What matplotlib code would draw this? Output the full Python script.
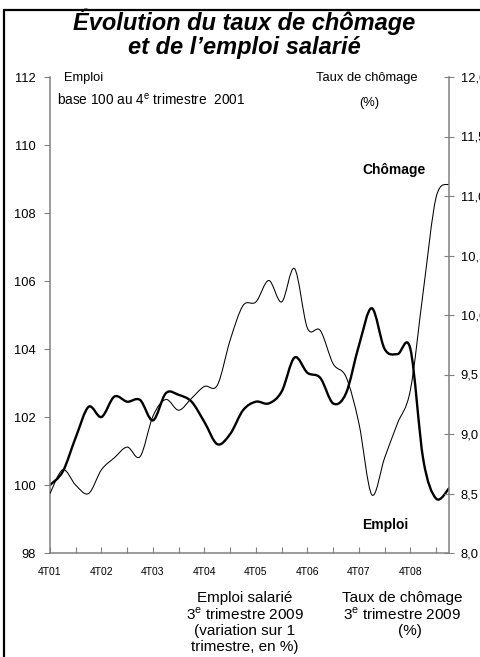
# ----------------------------------------------------------
# évolution du taux de chômage et de l'emploi salarié
# ----------------------------------------------------------

# ----------------------------------------------------------
# import
# ----------------------------------------------------------
import numpy as np
import matplotlib
matplotlib.use('Agg')
import matplotlib.pyplot as plt
from matplotlib.path import Path
from matplotlib.patches import PathPatch, Rectangle

# ----------------------------------------------------------
# constants
# ----------------------------------------------------------
plt.rcParams['font.family'] = ['Liberation Sans', 'DejaVu Sans']
plt.rcParams['mathtext.fontset'] = 'custom'
plt.rcParams['mathtext.rm'] = 'Liberation Sans'

# trimestres 4T01 -> 3T09 (32 points)
annees = ['4T01', '4T02', '4T03', '4T04', '4T05', '4T06', '4T07', '4T08']

emploi = [100.0, 100.4, 101.4, 102.3, 102.0, 102.6, 102.45, 102.5,
          101.9, 102.7, 102.65, 102.45, 101.85, 101.2, 101.5, 102.2,
          102.45, 102.4, 102.75, 103.75, 103.3, 103.15, 102.4, 102.7,
          104.1, 105.2, 104.0, 103.85, 104.0, 100.75, 99.6, 99.9]

chomage = [8.5, 8.7, 8.57, 8.5, 8.7, 8.8, 8.89, 8.81,
           9.15, 9.29, 9.2, 9.3, 9.4, 9.41, 9.79, 10.08,
           10.11, 10.29, 10.11, 10.39, 9.89, 9.87, 9.59, 9.48,
           9.09, 8.49, 8.8, 9.09, 9.37, 10.2, 10.99, 11.1]

ticks_gauche = [98, 100, 102, 104, 106, 108, 110, 112]
ticks_droite = [8.0, 8.5, 9.0, 9.5, 10.0, 10.5, 11.0, 11.5, 12.0]
labels_droite = ['8,0', '8,5', '9,0', '9,5', '10,0', '10,5', '11,0', '11,5', '12,0']

W, H = 480, 657
gris = '#808080'


# ----------------------------------------------------------
# functions
# ----------------------------------------------------------
def courbe_lissee(ax, y, lw):
    # lissage façon excel : bezier avec tangentes catmull-rom
    y = np.asarray(y, dtype=float)
    x = np.arange(len(y), dtype=float)
    pts = np.column_stack([x, y])
    n = len(pts)
    verts = [pts[0]]
    codes = [Path.MOVETO]
    for i in range(n - 1):
        p0 = pts[max(i - 1, 0)]
        p1 = pts[i]
        p2 = pts[i + 1]
        p3 = pts[min(i + 2, n - 1)]
        c1 = p1 + (p2 - p0) / 6.0
        c2 = p2 - (p3 - p1) / 6.0
        verts += [c1, c2, p2]
        codes += [Path.CURVE4] * 3
    patch = PathPatch(Path(verts, codes), fill=False, lw=lw, ec='black',
                      capstyle='round', joinstyle='round')
    ax.add_patch(patch)


def txt(x, y, s, **kw):
    fig.text(x / W, 1 - y / H, s, **kw)


# ----------------------------------------------------------
# main
# ----------------------------------------------------------
fig = plt.figure(figsize=(W / 100, H / 100), dpi=100)
fig.patch.set_facecolor('white')

ax = fig.add_axes([50 / W, 1 - 553 / H, 399 / W, 476 / H])
ax2 = ax.twinx()

courbe_lissee(ax, emploi, 1.7)
courbe_lissee(ax2, chomage, 0.75)

ax.set_xlim(0, len(emploi) - 1)
ax.set_ylim(98, 112)
ax2.set_ylim(8, 12)

ax.set_yticks(ticks_gauche)
ax.set_yticklabels([str(t) for t in ticks_gauche])
ax2.set_yticks(ticks_droite)
ax2.set_yticklabels(labels_droite)

ax.set_xticks(np.arange(0, 32, 4))
ax.set_xticklabels(annees)
ax.set_xticks(np.arange(2, 31, 4), minor=True)

for a in (ax, ax2):
    a.spines['top'].set_visible(False)
    for s in a.spines.values():
        s.set_color(gris)
        s.set_linewidth(1.1)
ax.spines['right'].set_visible(False)
ax2.spines['left'].set_visible(False)
ax2.spines['bottom'].set_visible(False)

ax.tick_params(axis='y', direction='out', length=4, width=0.8, color=gris,
               labelsize=9.3, pad=6)
ax2.tick_params(axis='y', direction='inout', length=7, width=0.8, color=gris,
                labelsize=9.3, pad=5)
ax.tick_params(axis='x', which='both', direction='in', length=4, width=0.8,
               color=gris, labelsize=7.5, pad=10)

# cadre
fig.add_artist(Rectangle((4 / W, -0.05), 1.2, 1.05 - 10 / H,
                         transform=fig.transFigure, fill=False,
                         lw=1.6, ec='black'))

# titre
txt(244, 30, 'Évolution du taux de chômage', ha='center', va='baseline',
    fontsize=17, fontweight='bold', fontstyle='italic')
txt(244, 54, 'et de l\u2019emploi salarié', ha='center', va='baseline',
    fontsize=17, fontweight='bold', fontstyle='italic')

# titres des axes
txt(84, 81, 'Emploi', ha='center', va='baseline', fontsize=9.3)
txt(57, 105, 'base 100 au 4$^{\\rm e}$ trimestre  2001', ha='left',
    va='baseline', fontsize=9.8)
txt(367, 81, 'Taux de chômage', ha='center', va='baseline', fontsize=9.3)
txt(369, 106, '(%)', ha='center', va='baseline', fontsize=9.3)

# étiquettes des courbes
txt(394, 170, 'Chômage', ha='center', va='center', fontsize=10,
    fontweight='bold')
txt(385, 525, 'Emploi', ha='center', va='center', fontsize=10,
    fontweight='bold')

# commentaires bas
bas_gauche = ['Emploi salarié', '3$^{\\rm e}$ trimestre 2009',
              '(variation sur 1', 'trimestre, en %)']
bas_droite = ['Taux de chômage', '3$^{\\rm e}$ trimestre 2009', '(%)']
for k, s in enumerate(bas_gauche):
    txt(245, 598 + 16.5 * k, s, ha='center', va='center', fontsize=11)
for k, s in enumerate(bas_droite):
    txt(402 if k < 2 else 410, 598 + 16.5 * k, s, ha='center', va='center',
        fontsize=11)

fig.savefig('out.png', dpi=100, facecolor='white')
